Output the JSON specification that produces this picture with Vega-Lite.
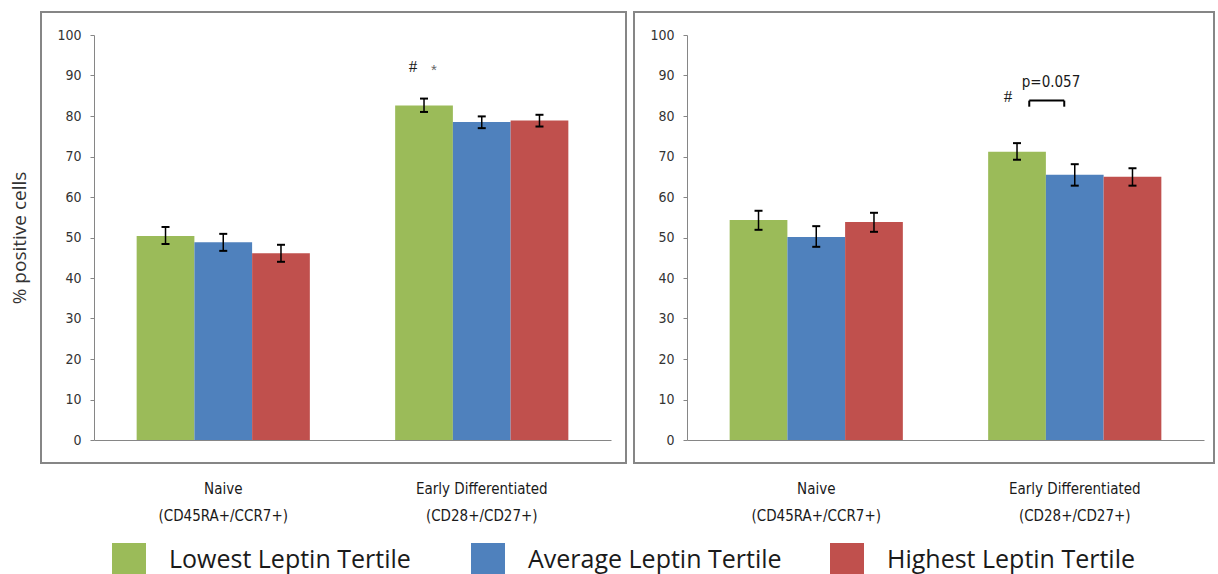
{
  "$schema": "https://vega.github.io/schema/vega-lite/v6.json",
  "background": "white",
  "padding": {"left": 9, "top": 11, "right": 0, "bottom": 0},
  "spacing": 6,
  "datasets": {
    "bars": [
      {"panel": "A", "cell": "Naive|(CD45RA+/CCR7+)", "tertile": "Lowest Leptin Tertile", "value": 50.4, "lo": 48.4, "hi": 52.6},
      {"panel": "A", "cell": "Naive|(CD45RA+/CCR7+)", "tertile": "Average Leptin Tertile", "value": 48.8, "lo": 46.7, "hi": 50.9},
      {"panel": "A", "cell": "Naive|(CD45RA+/CCR7+)", "tertile": "Highest Leptin Tertile", "value": 46.1, "lo": 44.0, "hi": 48.2},
      {"panel": "A", "cell": "Early Differentiated|(CD28+/CD27+)", "tertile": "Lowest Leptin Tertile", "value": 82.6, "lo": 81.0, "hi": 84.3},
      {"panel": "A", "cell": "Early Differentiated|(CD28+/CD27+)", "tertile": "Average Leptin Tertile", "value": 78.5, "lo": 77.0, "hi": 79.9},
      {"panel": "A", "cell": "Early Differentiated|(CD28+/CD27+)", "tertile": "Highest Leptin Tertile", "value": 78.9, "lo": 77.4, "hi": 80.3},
      {"panel": "B", "cell": "Naive|(CD45RA+/CCR7+)", "tertile": "Lowest Leptin Tertile", "value": 54.3, "lo": 51.9, "hi": 56.6},
      {"panel": "B", "cell": "Naive|(CD45RA+/CCR7+)", "tertile": "Average Leptin Tertile", "value": 50.1, "lo": 47.7, "hi": 52.8},
      {"panel": "B", "cell": "Naive|(CD45RA+/CCR7+)", "tertile": "Highest Leptin Tertile", "value": 53.8, "lo": 51.4, "hi": 56.1},
      {"panel": "B", "cell": "Early Differentiated|(CD28+/CD27+)", "tertile": "Lowest Leptin Tertile", "value": 71.2, "lo": 69.2, "hi": 73.3},
      {"panel": "B", "cell": "Early Differentiated|(CD28+/CD27+)", "tertile": "Average Leptin Tertile", "value": 65.5, "lo": 62.8, "hi": 68.1},
      {"panel": "B", "cell": "Early Differentiated|(CD28+/CD27+)", "tertile": "Highest Leptin Tertile", "value": 65.0, "lo": 62.8, "hi": 67.1}
    ],
    "marks": [
      {"panel": "A", "cell": "Early Differentiated|(CD28+/CD27+)", "tertile": "Lowest Leptin Tertile", "y": 92.1, "label": "#"},
      {"panel": "B", "cell": "Early Differentiated|(CD28+/CD27+)", "tertile": "Lowest Leptin Tertile", "y": 84.7, "label": "#"}
    ],
    "stars": [
      {"panel": "A", "cell": "Early Differentiated|(CD28+/CD27+)", "tertile": "Lowest Leptin Tertile", "y": 91.4, "label": "*"}
    ],
    "pvalue": [
      {"panel": "B", "cell": "Early Differentiated|(CD28+/CD27+)", "tertile": "Lowest Leptin Tertile", "y": 88.4, "label": "p=0.057"}
    ],
    "bracket": [
      {"panel": "B", "cell": "Early Differentiated|(CD28+/CD27+)", "top": 83.8, "foot": 82.3}
    ]
  },
  "config": {
    "view": {"stroke": "#868686", "strokeWidth": 2},
    "font": "DejaVu Sans Condensed, Open Sans, sans-serif",
    "axis": {"grid": false},
    "legend": {
      "orient": "none",
      "legendX": 71,
      "legendY": 531,
      "direction": "horizontal",
      "symbolType": "square",
      "symbolSize": 1156,
      "symbolStrokeWidth": 0,
      "symbolOpacity": 1,
      "labelFont": "Open Sans",
      "labelFontSize": 25,
      "labelColor": "#1a1a1a",
      "labelOffset": 23,
      "labelLimit": 400,
      "columnPadding": 48,
      "gridAlign": "all"
    }
  },
  "resolve": {"scale": {"color": "shared"}},
  "hconcat": [
    {
      "width": 585,
      "height": 451,
      "layer": [
        {
          "data": {"name": "bars"},
          "transform": [{"filter": "datum.panel == 'A'"}],
          "mark": {"type": "bar"},
          "encoding": {
            "x": {"field": "cell", "type": "nominal", "sort": null,
              "scale": {"range": [53, 570], "paddingInner": 0.33, "paddingOuter": 0.165},
              "axis": {"orient": "bottom", "offset": -23, "title": null, "domainColor": "#868686", "domainWidth": 1, "ticks": false,
                "labelExpr": "split(datum.label, '|')", "labelAngle": 0, "labelFontSize": 15, "labelColor": "#1a1a1a",
                "labelPadding": 41, "labelLineHeight": 27, "labelBaseline": "top"}},
            "xOffset": {"field": "tertile", "type": "nominal", "sort": ["Lowest Leptin Tertile", "Average Leptin Tertile", "Highest Leptin Tertile"],
              "scale": {"paddingInner": 0, "paddingOuter": 0}},
            "y": {"field": "value", "type": "quantitative",
              "scale": {"domain": [0, 100], "range": [428, 23], "nice": false},
              "axis": {"orient": "left", "offset": -53, "values": [0, 10, 20, 30, 40, 50, 60, 70, 80, 90, 100],
                "domainColor": "#868686", "domainWidth": 1, "tickColor": "#868686", "tickSize": 4,
                "labelFontSize": 14, "labelColor": "#333333", "labelPadding": 9,
                "title": "% positive cells", "titleX": -65, "titleBaseline": "bottom", "titleFont": "Open Sans",
                "titleFontSize": 19, "titleFontWeight": "normal", "titleColor": "#333333"}},
            "color": {"field": "tertile", "type": "nominal",
              "scale": {"domain": ["Lowest Leptin Tertile", "Average Leptin Tertile", "Highest Leptin Tertile"], "range": ["#9BBB59", "#4F81BD", "#C0504D"]},
              "legend": {"title": null}}
          }
        },
        {
          "data": {"name": "bars"},
          "transform": [{"filter": "datum.panel == 'A'"}],
          "mark": {"type": "rule", "color": "black", "strokeWidth": 1.5},
          "encoding": {
            "x": {"field": "cell", "type": "nominal", "sort": null},
            "xOffset": {"field": "tertile", "type": "nominal", "sort": ["Lowest Leptin Tertile", "Average Leptin Tertile", "Highest Leptin Tertile"]},
            "y": {"field": "lo", "type": "quantitative"},
            "y2": {"field": "hi"}
          }
        },
        {
          "data": {"name": "bars"},
          "transform": [{"filter": "datum.panel == 'A'"}],
          "mark": {"type": "tick", "color": "black", "size": 8, "thickness": 2, "opacity": 1},
          "encoding": {
            "x": {"field": "cell", "type": "nominal", "sort": null},
            "xOffset": {"field": "tertile", "type": "nominal", "sort": ["Lowest Leptin Tertile", "Average Leptin Tertile", "Highest Leptin Tertile"]},
            "y": {"field": "lo", "type": "quantitative"}
          }
        },
        {
          "data": {"name": "bars"},
          "transform": [{"filter": "datum.panel == 'A'"}],
          "mark": {"type": "tick", "color": "black", "size": 8, "thickness": 2, "opacity": 1},
          "encoding": {
            "x": {"field": "cell", "type": "nominal", "sort": null},
            "xOffset": {"field": "tertile", "type": "nominal", "sort": ["Lowest Leptin Tertile", "Average Leptin Tertile", "Highest Leptin Tertile"]},
            "y": {"field": "hi", "type": "quantitative"}
          }
        },
        {
          "data": {"name": "marks"},
          "transform": [{"filter": "datum.panel == 'A'"}],
          "mark": {"type": "text", "font": "Liberation Serif", "fontSize": 17, "color": "#1a1a1a", "dx": -11, "baseline": "middle"},
          "encoding": {
            "x": {"field": "cell", "type": "nominal", "sort": null},
            "xOffset": {"field": "tertile", "type": "nominal", "sort": ["Lowest Leptin Tertile", "Average Leptin Tertile", "Highest Leptin Tertile"]},
            "y": {"field": "y", "type": "quantitative"},
            "text": {"field": "label"}
          }
        },
        {
          "data": {"name": "stars"},
          "transform": [{"filter": "datum.panel == 'A'"}],
          "mark": {"type": "text", "font": "Liberation Sans", "fontSize": 15, "color": "#666666", "dx": 10, "baseline": "middle"},
          "encoding": {
            "x": {"field": "cell", "type": "nominal", "sort": null},
            "xOffset": {"field": "tertile", "type": "nominal", "sort": ["Lowest Leptin Tertile", "Average Leptin Tertile", "Highest Leptin Tertile"]},
            "y": {"field": "y", "type": "quantitative"},
            "text": {"field": "label"}
          }
        }
      ]
    },
    {
      "width": 580,
      "height": 451,
      "layer": [
        {
          "data": {"name": "bars"},
          "transform": [{"filter": "datum.panel == 'B'"}],
          "mark": {"type": "bar"},
          "encoding": {
            "x": {"field": "cell", "type": "nominal", "sort": null,
              "scale": {"range": [53, 570], "paddingInner": 0.33, "paddingOuter": 0.165},
              "axis": {"orient": "bottom", "offset": -23, "title": null, "domainColor": "#868686", "domainWidth": 1, "ticks": false,
                "labelExpr": "split(datum.label, '|')", "labelAngle": 0, "labelFontSize": 15, "labelColor": "#1a1a1a",
                "labelPadding": 41, "labelLineHeight": 27, "labelBaseline": "top"}},
            "xOffset": {"field": "tertile", "type": "nominal", "sort": ["Lowest Leptin Tertile", "Average Leptin Tertile", "Highest Leptin Tertile"],
              "scale": {"paddingInner": 0, "paddingOuter": 0}},
            "y": {"field": "value", "type": "quantitative",
              "scale": {"domain": [0, 100], "range": [428, 23], "nice": false},
              "axis": {"orient": "left", "offset": -53, "values": [0, 10, 20, 30, 40, 50, 60, 70, 80, 90, 100],
                "domainColor": "#868686", "domainWidth": 1, "tickColor": "#868686", "tickSize": 4,
                "labelFontSize": 14, "labelColor": "#333333", "labelPadding": 9, "title": null}},
            "color": {"field": "tertile", "type": "nominal",
              "scale": {"domain": ["Lowest Leptin Tertile", "Average Leptin Tertile", "Highest Leptin Tertile"], "range": ["#9BBB59", "#4F81BD", "#C0504D"]},
              "legend": {"title": null}}
          }
        },
        {
          "data": {"name": "bars"},
          "transform": [{"filter": "datum.panel == 'B'"}],
          "mark": {"type": "rule", "color": "black", "strokeWidth": 1.5},
          "encoding": {
            "x": {"field": "cell", "type": "nominal", "sort": null},
            "xOffset": {"field": "tertile", "type": "nominal", "sort": ["Lowest Leptin Tertile", "Average Leptin Tertile", "Highest Leptin Tertile"]},
            "y": {"field": "lo", "type": "quantitative"},
            "y2": {"field": "hi"}
          }
        },
        {
          "data": {"name": "bars"},
          "transform": [{"filter": "datum.panel == 'B'"}],
          "mark": {"type": "tick", "color": "black", "size": 8, "thickness": 2, "opacity": 1},
          "encoding": {
            "x": {"field": "cell", "type": "nominal", "sort": null},
            "xOffset": {"field": "tertile", "type": "nominal", "sort": ["Lowest Leptin Tertile", "Average Leptin Tertile", "Highest Leptin Tertile"]},
            "y": {"field": "lo", "type": "quantitative"}
          }
        },
        {
          "data": {"name": "bars"},
          "transform": [{"filter": "datum.panel == 'B'"}],
          "mark": {"type": "tick", "color": "black", "size": 8, "thickness": 2, "opacity": 1},
          "encoding": {
            "x": {"field": "cell", "type": "nominal", "sort": null},
            "xOffset": {"field": "tertile", "type": "nominal", "sort": ["Lowest Leptin Tertile", "Average Leptin Tertile", "Highest Leptin Tertile"]},
            "y": {"field": "hi", "type": "quantitative"}
          }
        },
        {
          "data": {"name": "marks"},
          "transform": [{"filter": "datum.panel == 'B'"}],
          "mark": {"type": "text", "font": "Liberation Serif", "fontSize": 17, "color": "#1a1a1a", "dx": -9, "baseline": "middle"},
          "encoding": {
            "x": {"field": "cell", "type": "nominal", "sort": null},
            "xOffset": {"field": "tertile", "type": "nominal", "sort": ["Lowest Leptin Tertile", "Average Leptin Tertile", "Highest Leptin Tertile"]},
            "y": {"field": "y", "type": "quantitative"},
            "text": {"field": "label"}
          }
        },
        {
          "data": {"name": "pvalue"},
          "transform": [{"filter": "datum.panel == 'B'"}],
          "mark": {"type": "text", "fontSize": 15, "color": "#1a1a1a", "dx": 34, "baseline": "middle"},
          "encoding": {
            "x": {"field": "cell", "type": "nominal", "sort": null},
            "xOffset": {"field": "tertile", "type": "nominal", "sort": ["Lowest Leptin Tertile", "Average Leptin Tertile", "Highest Leptin Tertile"]},
            "y": {"field": "y", "type": "quantitative"},
            "text": {"field": "label"}
          }
        },
        {
          "data": {"name": "bracket"},
          "mark": {"type": "rule", "color": "black", "strokeWidth": 2, "xOffset": -45.5, "x2Offset": -10.5},
          "encoding": {
            "x": {"field": "cell", "type": "nominal", "sort": null},
            "x2": {"field": "cell"},
            "y": {"field": "top", "type": "quantitative"}
          }
        },
        {
          "data": {"name": "bracket"},
          "mark": {"type": "rule", "color": "black", "strokeWidth": 2, "xOffset": -45.5},
          "encoding": {
            "x": {"field": "cell", "type": "nominal", "sort": null},
            "y": {"field": "top", "type": "quantitative"},
            "y2": {"field": "foot"}
          }
        },
        {
          "data": {"name": "bracket"},
          "mark": {"type": "rule", "color": "black", "strokeWidth": 2, "xOffset": -10.5},
          "encoding": {
            "x": {"field": "cell", "type": "nominal", "sort": null},
            "y": {"field": "top", "type": "quantitative"},
            "y2": {"field": "foot"}
          }
        }
      ]
    }
  ]
}
